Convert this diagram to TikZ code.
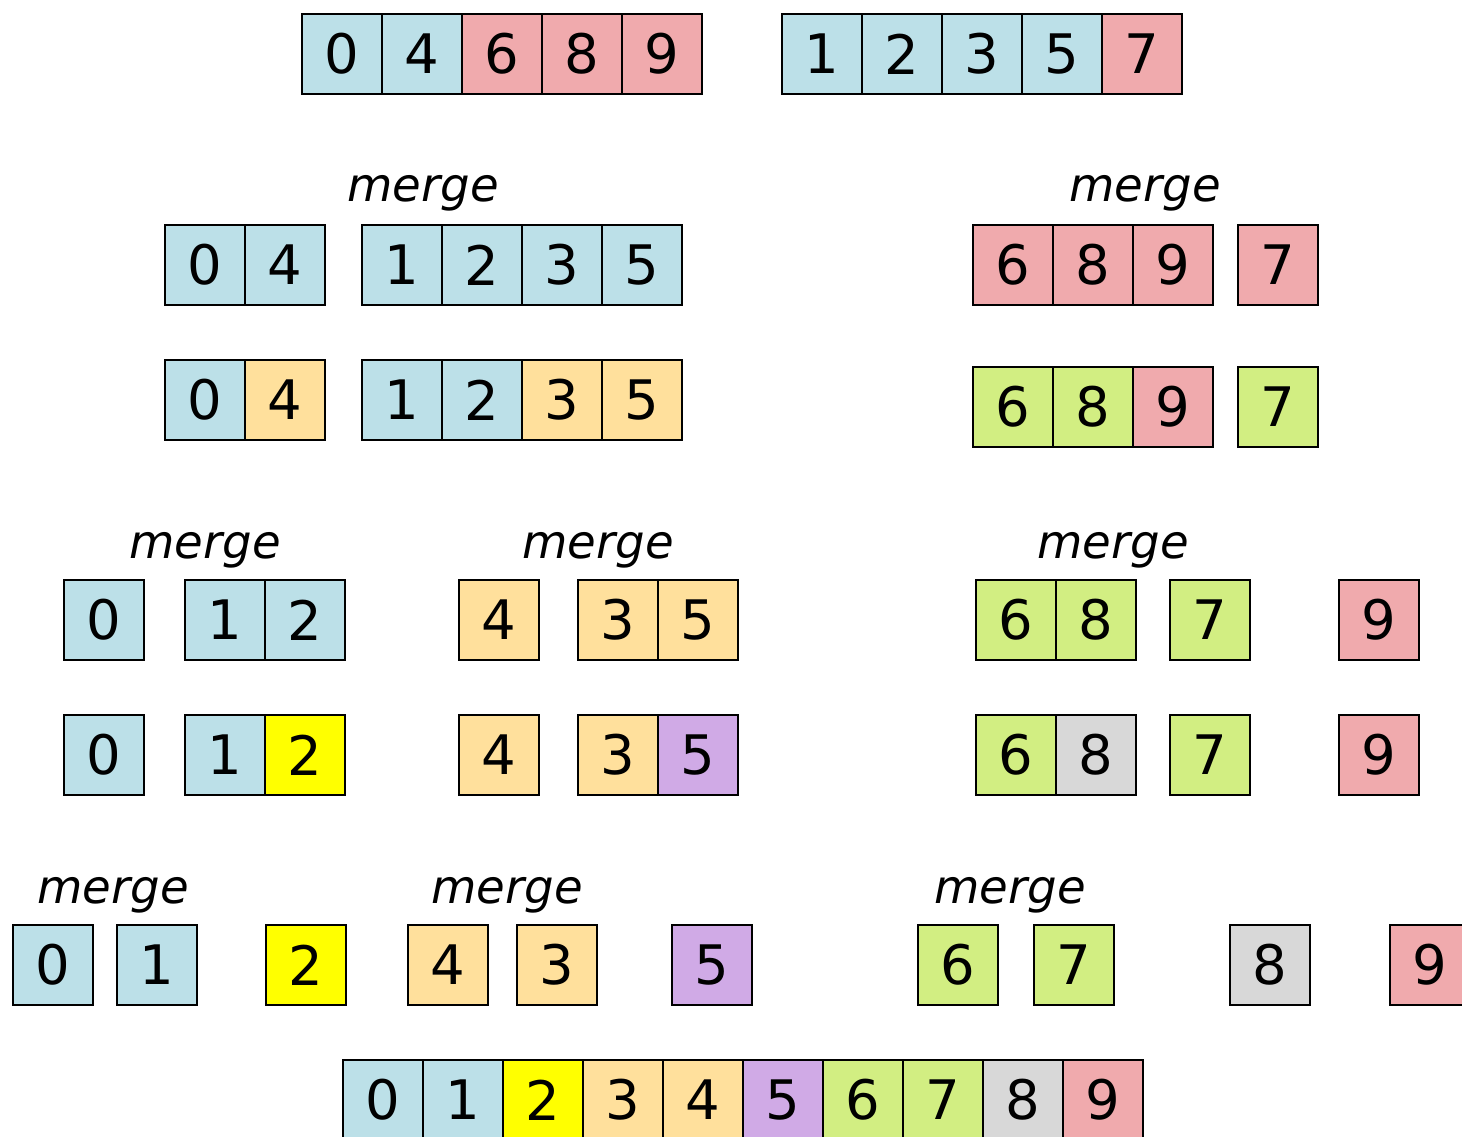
\documentclass[tikz,border=0pt]{standalone}
\usepackage{fontspec}
\setmainfont{DejaVu Sans}
\usepackage{xcolor}
\usepackage{tikz}
\usetikzlibrary{positioning}

\definecolor{cblue}{HTML}{BCE0E8}
\definecolor{cred}{HTML}{F0AAAD}
\definecolor{corange}{HTML}{FFE09C}
\definecolor{cgreen}{HTML}{D2EE82}
\definecolor{cyellow}{HTML}{FFFF00}
\definecolor{cpurple}{HTML}{D0AAE6}
\definecolor{cgrey}{HTML}{D8D8D8}

% row of cells: name, centre of first cell, list of digit/colour
\newcommand{\cellarray}[3]{%
  \foreach \v/\c [count=\i, remember=\i as \j (initially 0)] in {#3} {
    \ifnum\i=1
      \node [cell, fill=\c] (#1-\i) at (#2) {\v};
    \else
      \node [cell, fill=\c, right=0pt of #1-\j] (#1-\i) {\v};
    \fi
  }}

\begin{document}
\begin{tikzpicture}[x=0.02cm, y=-0.02cm]
    \tikzstyle{cell} = [draw, rectangle, minimum size=1.6cm, inner sep=0pt, outer sep=0pt, line width=1.1pt, font=\fontsize{31}{36}\selectfont]
    \tikzstyle{mlabel} = [anchor=base, inner sep=0pt, font=\fontsize{26.5}{31}\selectfont\itshape]

    \clip (0,0) rectangle (1462,1136);

    % start
    \cellarray{topl}{342,54}{0/cblue,4/cblue,6/cred,8/cred,9/cred}
    \cellarray{topr}{822,54}{1/cblue,2/cblue,3/cblue,5/cblue,7/cred}

    % first split
    \node [mlabel] (mergeA) at (423,201) {merge};
    \node [mlabel] (mergeB) at (1145,201) {merge};
    \cellarray{sa}{205,265}{0/cblue,4/cblue}
    \cellarray{sb}{402,265}{1/cblue,2/cblue,3/cblue,5/cblue}
    \cellarray{sc}{1013,265}{6/cred,8/cred,9/cred}
    \cellarray{sd}{1278,265}{7/cred}

    \cellarray{ta}{205,400}{0/cblue,4/corange}
    \cellarray{tb}{402,400}{1/cblue,2/cblue,3/corange,5/corange}
    \cellarray{tc}{1013,407}{6/cgreen,8/cgreen,9/cred}
    \cellarray{td}{1278,407}{7/cgreen}

    % second split
    \node [mlabel] (mergeC) at (205,558) {merge};
    \node [mlabel] (mergeD) at (598,558) {merge};
    \node [mlabel] (mergeE) at (1113,558) {merge};
    \cellarray{ua}{104,620}{0/cblue}
    \cellarray{ub}{225,620}{1/cblue,2/cblue}
    \cellarray{uc}{499,620}{4/corange}
    \cellarray{ud}{618,620}{3/corange,5/corange}
    \cellarray{ue}{1016,620}{6/cgreen,8/cgreen}
    \cellarray{uf}{1210,620}{7/cgreen}
    \cellarray{ug}{1379,620}{9/cred}

    \cellarray{va}{104,755}{0/cblue}
    \cellarray{vb}{225,755}{1/cblue,2/cyellow}
    \cellarray{vc}{499,755}{4/corange}
    \cellarray{vd}{618,755}{3/corange,5/cpurple}
    \cellarray{ve}{1016,755}{6/cgreen,8/cgrey}
    \cellarray{vf}{1210,755}{7/cgreen}
    \cellarray{vg}{1379,755}{9/cred}

    % single cells
    \node [mlabel] (mergeF) at (113,903) {merge};
    \node [mlabel] (mergeG) at (507,903) {merge};
    \node [mlabel] (mergeH) at (1010,903) {merge};
    \cellarray{wa}{53,965}{0/cblue}
    \cellarray{wb}{157,965}{1/cblue}
    \cellarray{wc}{306,965}{2/cyellow}
    \cellarray{wd}{448,965}{4/corange}
    \cellarray{we}{557,965}{3/corange}
    \cellarray{wf}{712,965}{5/cpurple}
    \cellarray{wg}{958,965}{6/cgreen}
    \cellarray{wh}{1074,965}{7/cgreen}
    \cellarray{wi}{1270,965}{8/cgrey}
    \cellarray{wj}{1430,965}{9/cred}

    % result
    \cellarray{res}{383,1100}{0/cblue,1/cblue,2/cyellow,3/corange,4/corange,5/cpurple,6/cgreen,7/cgreen,8/cgrey,9/cred}
\end{tikzpicture}
\end{document}
